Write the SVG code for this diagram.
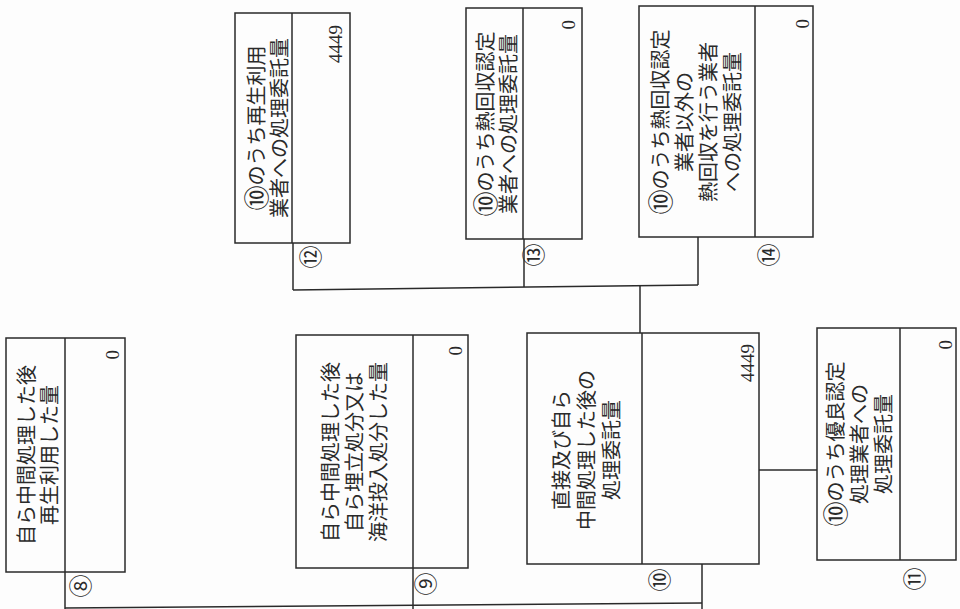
<svg xmlns="http://www.w3.org/2000/svg" width="960" height="609" viewBox="0 0 960 609">
<style>
.bx{fill:none;stroke:#2a2a2a;stroke-width:1.5}
.ln{fill:none;stroke:#2a2a2a;stroke-width:1.5}
.lb{font-family:"Noto Sans CJK JP","Noto Sans",sans-serif;font-size:20px;fill:#2a2a2a;text-anchor:middle;dominant-baseline:central}
.c{font-size:25px}
.nm{font-family:"Liberation Serif",serif;font-size:19px;fill:#2a2a2a;text-anchor:end}
.cn{font-family:"Noto Sans CJK JP","DejaVu Sans",sans-serif;font-size:23px;fill:#2a2a2a;text-anchor:middle;dominant-baseline:central}
</style>
<rect width="960" height="609" fill="#fdfdfd"/>
<g id="connectors">
<line class="ln" x1="65" y1="572" x2="65" y2="609"/>
<line class="ln" x1="413" y1="568" x2="413" y2="609"/>
<line class="ln" x1="702" y1="564" x2="702" y2="609"/>
<line class="ln" x1="65" y1="608" x2="702" y2="603"/>
<line class="ln" x1="759" y1="470" x2="817" y2="470"/>
<line class="ln" x1="640" y1="333" x2="640" y2="286"/>
<line class="ln" x1="293" y1="290" x2="698" y2="285"/>
<line class="ln" x1="293" y1="243" x2="293" y2="290"/>
<line class="ln" x1="524" y1="239" x2="524" y2="287"/>
<line class="ln" x1="698" y1="237" x2="698" y2="285"/>
</g>
<g id="node8">
<rect class="bx" x="6" y="338" width="119" height="234"/>
<line class="ln" x1="65" y1="338" x2="65" y2="572"/>
<text class="lb" transform="translate(0,455) rotate(-90)"><tspan x="0" y="25">自ら中間処理した後</tspan><tspan x="0" y="48">再生利用した量</tspan></text>
<text class="nm" transform="translate(0,350) rotate(-90)" x="0" y="119">0</text>
<text class="cn" transform="translate(79,586) rotate(-90)">⑧</text>
</g>
<g id="node9">
<rect class="bx" x="296" y="335" width="172" height="233"/>
<line class="ln" x1="413" y1="335" x2="413" y2="568"/>
<text class="lb" transform="translate(0,452) rotate(-90)"><tspan x="0" y="329">自ら中間処理した後</tspan><tspan x="0" y="353">自ら埋立処分又は</tspan><tspan x="0" y="377">海洋投入処分した量</tspan></text>
<text class="nm" transform="translate(0,346) rotate(-90)" x="0" y="462">0</text>
<text class="cn" transform="translate(424,584) rotate(-90)">⑨</text>
</g>
<g id="node10">
<rect class="bx" x="527" y="333" width="232" height="231"/>
<line class="ln" x1="642" y1="333" x2="642" y2="564"/>
<text class="lb" transform="translate(0,450) rotate(-90)"><tspan x="0" y="560">直接及び自ら</tspan><tspan x="0" y="585">中間処理した後の</tspan><tspan x="0" y="610">処理委託量</tspan></text>
<text class="nm" transform="translate(0,344) rotate(-90)" x="0" y="754">4449</text>
<text class="cn" transform="translate(658,580) rotate(-90)">⑩</text>
</g>
<g id="node11">
<rect class="bx" x="817" y="328" width="139" height="232"/>
<line class="ln" x1="900" y1="328" x2="900" y2="560"/>
<text class="lb" transform="translate(0,444) rotate(-90)"><tspan x="0" y="834"><tspan class="c">⑩</tspan>のうち優良認定</tspan><tspan x="0" y="858">処理業者への</tspan><tspan x="0" y="882">処理委託量</tspan></text>
<text class="nm" transform="translate(0,340) rotate(-90)" x="0" y="952">0</text>
<text class="cn" transform="translate(913,579) rotate(-90)">⑪</text>
</g>
<g id="node12">
<rect class="bx" x="235" y="13" width="115" height="230"/>
<line class="ln" x1="292" y1="13" x2="292" y2="243"/>
<text class="lb" transform="translate(0,128) rotate(-90)"><tspan x="0" y="255"><tspan class="c">⑩</tspan>のうち再生利用</tspan><tspan x="0" y="278">業者への処理委託量</tspan></text>
<text class="nm" transform="translate(0,25) rotate(-90)" x="0" y="342">4449</text>
<text class="cn" transform="translate(309,257) rotate(-90)">⑫</text>
</g>
<g id="node13">
<rect class="bx" x="466" y="8" width="116" height="231"/>
<line class="ln" x1="523" y1="8" x2="523" y2="239"/>
<text class="lb" transform="translate(0,124) rotate(-90)"><tspan x="0" y="484"><tspan class="c">⑩</tspan>のうち熱回収認定</tspan><tspan x="0" y="507">業者への処理委託量</tspan></text>
<text class="nm" transform="translate(0,20) rotate(-90)" x="0" y="575">0</text>
<text class="cn" transform="translate(532,255) rotate(-90)">⑬</text>
</g>
<g id="node14">
<rect class="bx" x="639" y="6" width="174" height="231"/>
<line class="ln" x1="755" y1="6" x2="755" y2="237"/>
<text class="lb" transform="translate(0,122) rotate(-90)"><tspan x="0" y="659"><tspan class="c">⑩</tspan>のうち熱回収認定</tspan><tspan x="0" y="683">業者以外の</tspan><tspan x="0" y="707">熱回収を行う業者</tspan><tspan x="0" y="731">への処理委託量</tspan></text>
<text class="nm" transform="translate(0,19) rotate(-90)" x="0" y="809">0</text>
<text class="cn" transform="translate(767,255) rotate(-90)">⑭</text>
</g>
</svg>
